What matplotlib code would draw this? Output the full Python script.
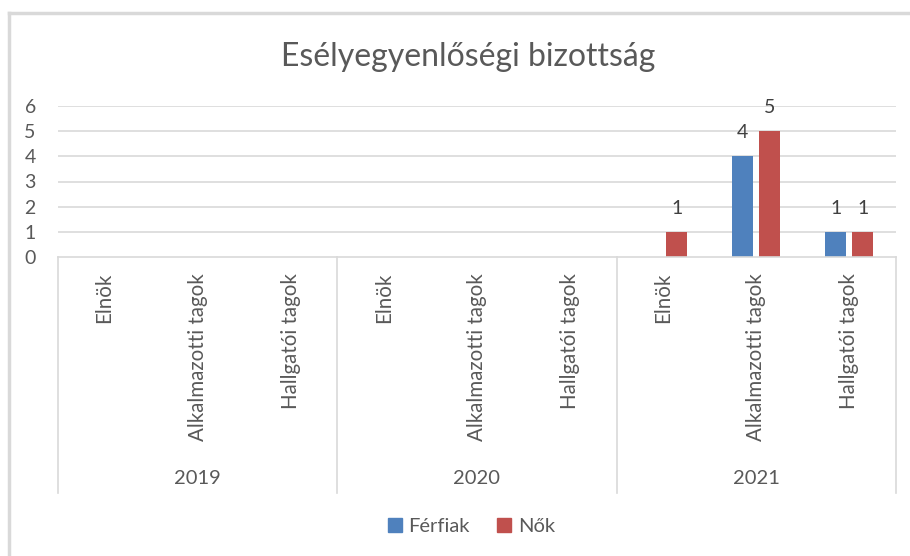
import numpy as np
import matplotlib.pyplot as plt
from matplotlib.transforms import blended_transform_factory
from matplotlib.lines import Line2D

plt.rcParams['font.family'] = ['Lato', 'DejaVu Sans']

years = ["2019", "2020", "2021"]
roles = ["Elnök", "Alkalmazotti tagok", "Hallgatói tagok"]
ferfiak = [np.nan, np.nan, np.nan, np.nan, np.nan, np.nan, np.nan, 4, 1]
nok = [np.nan, np.nan, np.nan, np.nan, np.nan, np.nan, 1, 5, 1]

blue = '#4F81BD'
red = '#C0504D'
grey = '#595959'
line_grey = '#D9D9D9'

W, H = 910, 556
fig = plt.figure(figsize=(W / 100, H / 100), dpi=100)
# plot area: x 58..896 px, y 106..257 px (from top)
ax = fig.add_axes([58 / W, (H - 257) / H, (896 - 58) / W, (257 - 106) / H])

n = len(years) * len(roles)
x = np.arange(n)
bw = 0.225
off = 0.145
ax.bar(x - off, ferfiak, bw, color=blue, label='Férfiak')
ax.bar(x + off, nok, bw, color=red, label='Nők')

for xs, vals in ((x - off, ferfiak), (x + off, nok)):
    for xi, v in zip(xs, vals):
        if not np.isnan(v):
            ax.annotate(f"{v:g}", (xi, v), xytext=(0, 17), textcoords='offset points',
                        ha='center', va='center', fontsize=14, color='#404040')

ax.set_xlim(-0.5, n - 0.5)
ax.set_ylim(0, 6)
ax.set_yticks(range(0, 7))
ax.set_xticks([])
ax.tick_params(axis='y', length=0, pad=16, labelsize=14, labelcolor=grey)
for s in ax.spines.values():
    s.set_visible(False)
for v in range(1, 7):
    ax.axhline(v, color=line_grey, lw=1.2, zorder=0)

# category axis box
tr = blended_transform_factory(ax.transData, ax.transAxes)
px = 1 / (257 - 106)
box_bottom = -(493 - 257) * px
ax.plot([-0.5, n - 0.5], [0, 0], color=line_grey, lw=1.2, transform=tr, clip_on=False)
for b in np.arange(0, n + 1, len(roles)) - 0.5:
    ax.plot([b, b], [0, box_bottom], color=line_grey, lw=1.2, transform=tr, clip_on=False)

for i in range(n):
    ax.text(i, -(273 - 257) * px, roles[i % len(roles)], rotation=90, ha='center', va='top',
            fontsize=14.8, color=grey, transform=tr)
for j, yr in enumerate(years):
    ax.text(j * len(roles) + 1, -(478 - 257) * px, yr, ha='center', va='center',
            fontsize=14.5, color=grey, transform=tr)

fig.text(468 / W, 1 - 57 / H, "Esélyegyenlőségi bizottság", ha='center', va='center',
         fontsize=23, color=grey)

handles = [Line2D([], [], marker='s', ls='', color=blue, markersize=10),
           Line2D([], [], marker='s', ls='', color=red, markersize=10)]
fig.legend(handles, ['Férfiak', 'Nők'], loc='center', bbox_to_anchor=(470 / W, 1 - 526 / H),
           ncol=2, frameon=False, fontsize=14.5, labelcolor=grey, handletextpad=0.2,
           columnspacing=1.2, handlelength=1)

# chart frame (left and top edges visible)
fig.add_artist(Line2D([9 / W, 9 / W], [0, 1 - 13 / H], color=line_grey, lw=2.5))
fig.add_artist(Line2D([9 / W, 1], [1 - 13 / H, 1 - 13 / H], color=line_grey, lw=2.5))

fig.savefig('out.png', dpi=100, facecolor='white')
